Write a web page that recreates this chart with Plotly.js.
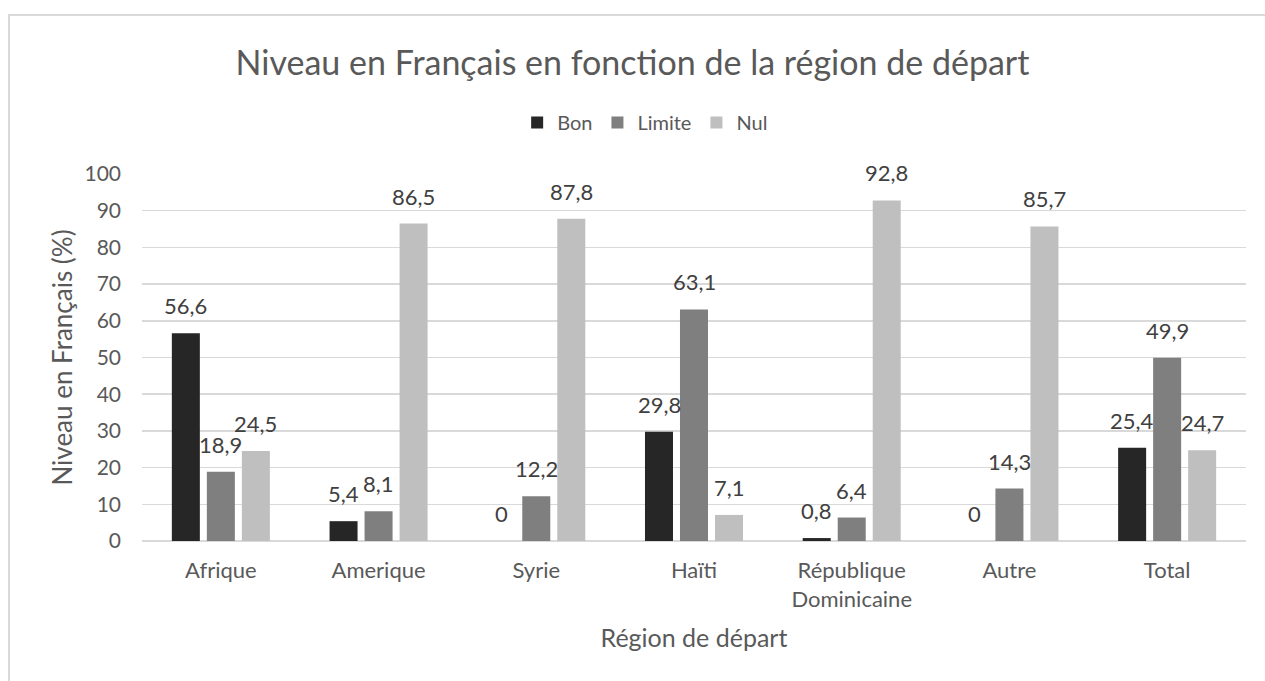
<!DOCTYPE html>
<html>
<head>
<meta charset="utf-8">
<script src="https://cdn.plot.ly/plotly-3.0.1.min.js"></script>
<style>
html,body{margin:0;padding:0;background:#fff;overflow:hidden;}
#frame{position:absolute;left:8px;top:14px;width:1300px;height:700px;border:2px solid #d9d9d9;box-sizing:border-box;}
#chart{position:absolute;left:0;top:0;width:1265px;height:681px;}
</style>
</head>
<body>
<div id="frame"></div>
<div id="chart"></div>
<script>
const categories = ["Afrique", "Amerique", "Syrie", "Haïti", "République<br>Dominicaine", "Autre", "Total"];
const bon = [56.6, 5.4, 0, 29.8, 0.8, 0, 25.4];
const limite = [18.9, 8.1, 12.2, 63.1, 6.4, 14.3, 49.9];
const nul = [24.5, 86.5, 87.8, 7.1, 92.8, 85.7, 24.7];
const seriesNames = ["Bon", "Limite", "Nul"];
const yTicks = [0, 10, 20, 30, 40, 50, 60, 70, 80, 90, 100];

const FONT = "Lato, 'Open Sans', sans-serif";
const colors = ["#262626", "#7f7f7f", "#bfbfbf"];
const fmt = v => String(v).replace('.', ',');
const allSeries = [bon, limite, nul];

const traces = allSeries.map((vals, i) => ({
  type: 'bar',
  name: seriesNames[i],
  x: categories,
  y: vals,
  marker: {color: colors[i], line: {width: 0}},
  hoverinfo: 'x+y'
}));

// data labels placed above each bar, shifted to the bar's slot within the group
const slotShift = 35;
const annotations = [];
allSeries.forEach((vals, i) => {
  vals.forEach((v, j) => {
    annotations.push({
      x: categories[j], y: v, xref: 'x', yref: 'y',
      text: fmt(v), showarrow: false,
      xanchor: 'center', yanchor: 'bottom',
      xshift: (i - 1) * slotShift, yshift: 12,
      font: {family: FONT, size: 22, color: '#404040'}
    });
  });
});

const layout = {
  width: 1265,
  height: 681,
  paper_bgcolor: 'rgba(0,0,0,0)',
  plot_bgcolor: 'rgba(0,0,0,0)',
  margin: {l: 142, r: 19, t: 174, b: 140},
  font: {family: FONT, color: '#595959'},
  title: {
    text: 'Niveau en Français en fonction de la région de départ',
    font: {family: FONT, size: 34, color: '#595959'},
    x: 0.5, xref: 'container', xanchor: 'center',
    y: 0.908, yref: 'container', yanchor: 'middle'
  },
  showlegend: true,
  legend: {
    orientation: 'h',
    x: 0.51, xref: 'container', xanchor: 'center',
    y: 0.82, yref: 'container', yanchor: 'middle',
    font: {family: FONT, size: 20, color: '#595959'},
    itemwidth: 30,
    traceorder: 'normal'
  },
  barmode: 'group',
  bargap: 0.334,
  bargroupgap: 0.2,
  annotations: annotations,
  xaxis: {
    type: 'category',
    showgrid: false,
    showline: false,
    ticks: '',
    ticklabelstandoff: 14,
    tickfont: {family: FONT, size: 22, color: '#595959'},
    title: {text: 'Région de départ', font: {family: FONT, size: 25, color: '#595959'}, standoff: 18},
    automargin: false
  },
  yaxis: {
    range: [0, 100],
    tickvals: yTicks,
    ticktext: yTicks.map(String),
    showgrid: true,
    gridcolor: '#d9d9d9',
    gridwidth: 1.5,
    zeroline: true,
    zerolinecolor: '#d9d9d9',
    zerolinewidth: 1.5,
    showline: false,
    ticks: '',
    ticklabelstandoff: 20,
    tickfont: {family: FONT, size: 21, color: '#595959'},
    title: {text: 'Niveau en Français (%)', font: {family: FONT, size: 26, color: '#595959'}, standoff: 4},
    automargin: false
  }
};

Plotly.newPlot('chart', traces, layout, {displayModeBar: false, staticPlot: true});
</script>
</body>
</html>
